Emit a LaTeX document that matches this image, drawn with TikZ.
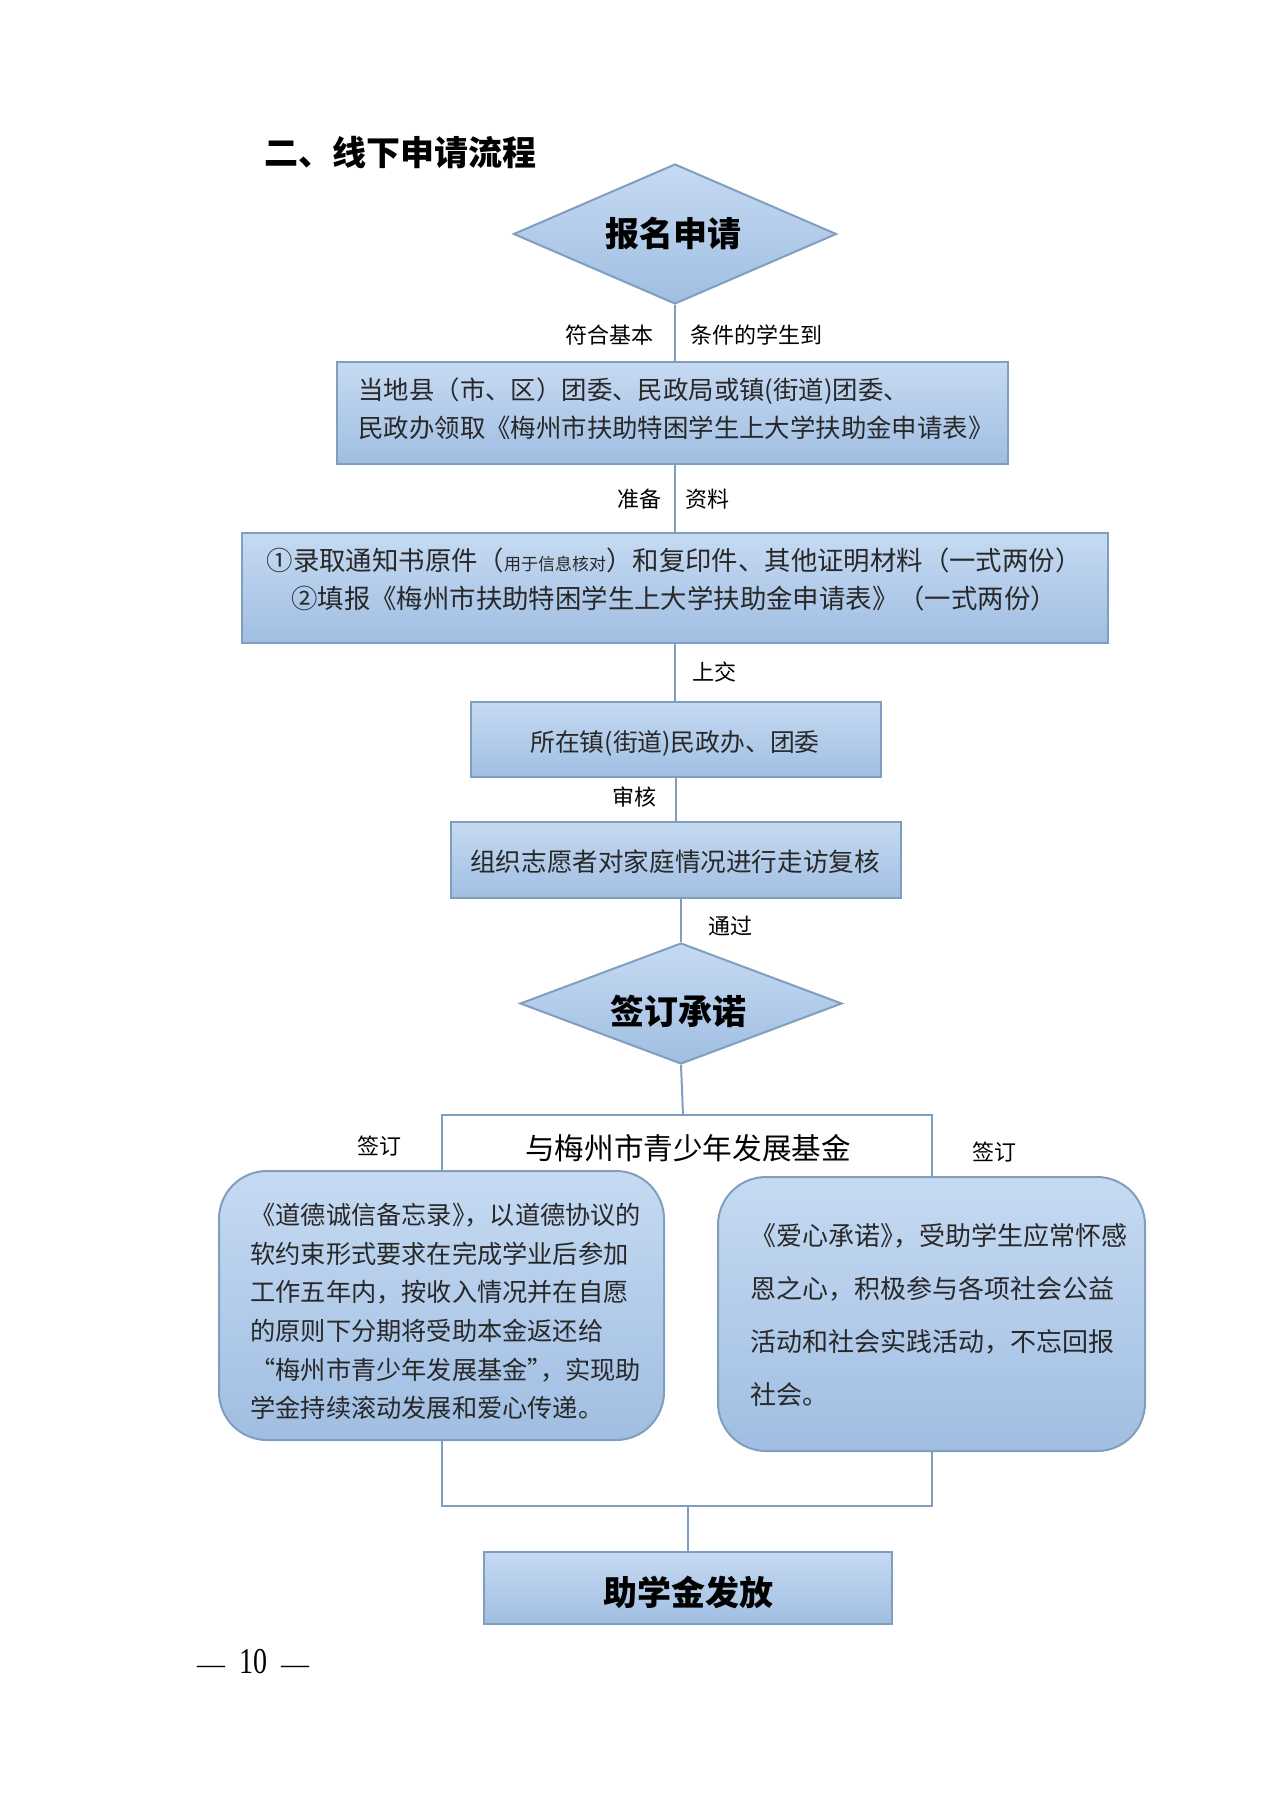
\documentclass[tikz,border=0pt]{standalone}
\usepackage{fontspec}
\setmainfont{Noto Sans CJK SC}
\newfontfamily\numfont{Liberation Serif}
\usetikzlibrary{shapes.geometric}
\definecolor{edge}{RGB}{128,158,190}
\definecolor{fillT}{RGB}{198,218,242}
\definecolor{fillB}{RGB}{160,190,226}
\definecolor{txt}{RGB}{40,40,40}
\newcommand{\fs}[2]{\fontsize{#1}{#2}\selectfont}
\newcommand{\hk}{\kern-0.5em}
\tikzset{
  shp/.style={draw=edge, line width=1pt, top color=fillT, bottom color=fillB},
  rect/.style={shp, rectangle, inner sep=0pt},
  rrect/.style={shp, rectangle, rounded corners=24pt, inner sep=0pt},
  dia/.style={shp, diamond, inner sep=0pt},
  conn/.style={draw=edge, line width=1pt},
  lbl/.style={inner sep=0pt, font=\fs{11pt}{13pt}},
  boxtext/.style={inner sep=0pt, text=txt},
  bigtext/.style={inner sep=0pt, font=\fs{17pt}{20pt}\bfseries},
}
\begin{document}
\begin{tikzpicture}[x=0.5pt,y=-0.5pt]
\useasboundingbox (0,0) rectangle (1280,1810);
% title
\node[bigtext, anchor=center] (title) at (400,153) {二、线下申请流程};
% shapes
\node[dia, minimum width=161.5pt, minimum height=70pt] (d1) at (675,234) {};
\node[rect, minimum width=335.5pt, minimum height=51pt] (b1) at (672.5,413) {};
\node[rect, minimum width=433pt, minimum height=55pt] (b2) at (675,588) {};
\node[rect, minimum width=205pt, minimum height=37.5pt] (b3) at (676,739.5) {};
\node[rect, minimum width=225pt, minimum height=38pt] (b4) at (676,860) {};
\node[dia, minimum width=161pt, minimum height=60.5pt] (d2) at (681,1003.5) {};
\node[rrect, minimum width=222.5pt, minimum height=134.5pt] (lb) at (441.5,1305.5) {};
\node[rrect, minimum width=213.5pt, minimum height=137pt] (rb) at (931.5,1314) {};
\node[rect, minimum width=204pt, minimum height=36pt] (fin) at (688,1588) {};
% connectors
\draw[conn] (d1.south) -- (d1.south |- b1.north);
\draw[conn] (d1.south |- b1.south) -- (d1.south |- b2.north);
\draw[conn] (d1.south |- b2.south) -- (d1.south |- b3.north);
\draw[conn] (b3.south) -- (b4.north);
\draw[conn] (d2.north |- b4.south) -- (d2.north);
\coordinate (jt) at (683,1115);
\draw[conn] (d2.south) -- (jt);
\draw[conn] (lb.north) |- (jt);
\draw[conn] (rb.north) |- (jt);
\coordinate (jb) at (688,1506);
\draw[conn] (lb.south) |- (jb);
\draw[conn] (rb.south) |- (jb);
\draw[conn] (jb) -- (fin.north);
% texts in shapes
\node[bigtext] (d1t) at (673,234) {报名申请};
\node[boxtext, anchor=west, align=left, font=\fs{12.7pt}{19pt}] (b1t) at (358,409)
  {当地县（市、区）团委、民政局或镇(街道)团委、\\民政办领取《梅州市扶助特困学生上大学扶助金申请表》};
\node[boxtext, align=center, font=\fs{13.2pt}{19pt}] (b2t) at (674,579)
  {①录取通知书原件（{\fs{8.5pt}{10pt}用于信息核对}）和复印件、其他证明材料（一式两份）\\②填报《梅州市扶助特困学生上大学扶助金申请表》（一式两份）};
\node[boxtext, font=\fs{12.4pt}{15pt}] (b3t) at (675,743) {所在镇(街道)民政办、团委};
\node[boxtext, font=\fs{12.8pt}{15pt}] (b4t) at (675,862) {组织志愿者对家庭情况进行走访复核};
\node[bigtext] (d2t) at (678,1011) {签订承诺};
\node[boxtext, anchor=west, align=left, font=\fs{12.6pt}{19.3pt}] (lbt) at (250,1311.5)
  {《道德诚信备忘录》\hk，以道德协议的\\软约束形式要求在完成学业后参加\\工作五年内，按收入情况并在自愿\\的原则下分期将受助本金返还给\\“梅州市青少年发展基金”\hk，实现助\\学金持续滚动发展和爱心传递。};
\node[boxtext, anchor=west, align=left, font=\fs{13pt}{26.5pt}] (rbt) at (750,1315)
  {《爱心承诺》\hk，受助学生应常怀感\\恩之心，积极参与各项社会公益\\活动和社会实践活动，不忘回报\\社会。};
\node[bigtext] (fint) at (688,1592) {助学金发放};
% connector labels
\node[lbl, anchor=east] (l1a) at (654,335) {符合基本};
\node[lbl, anchor=west] (l1b) at (690,335) {条件的学生到};
\node[lbl] (l2a) at (639,499) {准备};
\node[lbl] (l2b) at (707,499) {资料};
\node[lbl] (l3) at (714,672) {上交};
\node[lbl] (l4) at (634,797) {审核};
\node[lbl] (l5) at (730,926) {通过};
\node[lbl] (l6) at (379,1146) {签订};
\node[lbl] (l7) at (994,1152) {签订};
\node[inner sep=0pt, font=\fs{14.8pt}{17pt}] (l8) at (688,1148) {与梅州市青少年发展基金};
% page number
\node[inner sep=0pt, font=\numfont\fs{14pt}{17pt}] (pg) at (253,1662) {—\hspace{7pt}\scalebox{1}[1.3]{10}\hspace{7pt}—};
\end{tikzpicture}
\end{document}
